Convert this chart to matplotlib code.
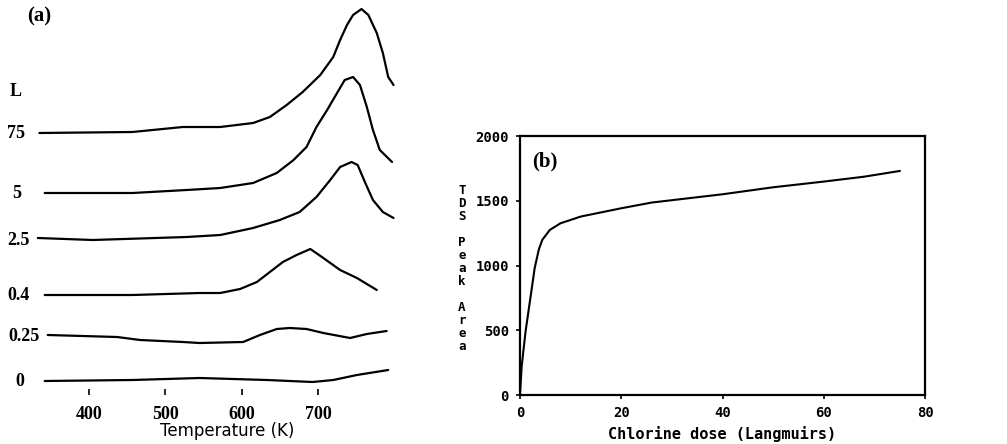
import matplotlib
matplotlib.use("Agg")
import matplotlib.pyplot as plt
from matplotlib.transforms import blended_transform_factory

# ---------------- data: panel (a) TDS spectra (temperature K, intensity a.u.) ----------------
dose_labels = ["0", "0.25", "0.4", "2.5", "5", "75"]
offsets = [14, 59, 100, 155, 202, 262]

T_0 = [342, 457, 545, 633, 693, 720, 751, 792]
I_0 = [0, 1, 3, 1, -1, 1, 6, 11]

T_025 = [346, 437, 467, 523, 545, 602, 624, 646, 663, 685, 707, 742, 764, 790]
I_025 = [1, -1, -4, -6, -7, -6, 1, 7, 8, 7, 3, -2, 2, 5]

T_04 = [342, 457, 545, 572, 598, 620, 637, 654, 672, 690, 707, 729, 751, 777]
I_04 = [0, 0, 2, 2, 6, 13, 23, 33, 40, 46, 37, 25, 17, 5]

T_25 = [333, 405, 528, 572, 615, 650, 676, 698, 716, 729, 744, 752, 762, 772, 785, 799]
I_25 = [2, 0, 3, 5, 12, 20, 28, 43, 60, 73, 78, 75, 57, 40, 28, 22]

T_5 = [342, 457, 528, 572, 615, 646, 668, 685, 698, 712, 725, 735, 746, 755, 764, 772, 781, 797]
I_5 = [0, 0, 3, 5, 10, 20, 33, 46, 66, 83, 100, 113, 116, 108, 86, 63, 43, 31]

T_75 = [335, 457, 523, 572, 615, 637, 659, 680, 703, 720, 729, 738, 746, 757, 766, 777,
        785, 792, 799]
I_75 = [0, 1, 6, 6, 10, 16, 28, 41, 58, 76, 93, 108, 118, 124, 118, 100, 80, 56, 48]

temp_ticks = [400, 500, 600, 700]

# ---------------- data: panel (b) TDS peak area vs chlorine dose ----------------
dose_L = [0, 0.33, 1.1, 2.0, 2.9, 3.7, 4.4, 5.9, 8, 12, 20, 26, 40, 50, 60, 68, 75]
peak_area = [0, 221, 491, 735, 980, 1121, 1198, 1275, 1326, 1378, 1442, 1486, 1550,
             1604, 1648, 1686, 1730]
dose_ticks = [0, 20, 40, 60, 80]
area_ticks = [0, 500, 1000, 1500, 2000]

W, H = 1007, 444
fig = plt.figure(figsize=(W / 100, H / 100), dpi=100)
fig.patch.set_facecolor("white")


def fx(px):
    return px / W


def fy(py):
    return 1 - py / H


serif = "Liberation Serif"
mono = "DejaVu Sans Mono"

# ---------------- panel (a) ----------------
ax = fig.add_axes([fx(35), fy(395), fx(395) - fx(35), fy(5) - fy(395)])
curves = [(T_0, I_0), (T_025, I_025), (T_04, I_04), (T_25, I_25), (T_5, I_5), (T_75, I_75)]
for (T, I), off in zip(curves, offsets):
    ax.plot(T, [v + off for v in I], color="black", lw=1.6,
            solid_joinstyle="round", solid_capstyle="round")
ax.set_xlim(329.3, 800.9)
ax.set_ylim(0, 390)
for s in ax.spines.values():
    s.set_visible(False)
ax.set_yticks([])
ax.set_xticks(temp_ticks)
ax.set_xticklabels([str(t) for t in temp_ticks], fontfamily=serif, fontweight="bold",
                   fontsize=13)
ax.tick_params(axis="x", direction="in", length=4, width=1.2, pad=8, color="black")
fig.text(fx(227), fy(431), "Temperature (K)", ha="center", va="center",
         fontsize=12, family="DejaVu Sans", color="black")
fig.text(fx(27), fy(16), "(a)", ha="left", va="center", fontsize=15,
         family=serif, fontweight="bold")

trans = blended_transform_factory(fig.transFigure, ax.transData)
label_x = [15, 8, 7, 7, 12, 7]
for lab, off, lx in zip(dose_labels, offsets, label_x):
    ax.text(fx(lx), off, lab, transform=trans, ha="left", va="center",
            fontsize=13, family=serif, fontweight="bold")
ax.text(fx(10), 395 - 92, "L", transform=trans, ha="left", va="center",
        fontsize=13, family=serif, fontweight="bold")

# ---------------- panel (b) ----------------
bx = fig.add_axes([fx(520), fy(395), fx(925) - fx(520), fy(136) - fy(395)])
bx.plot(dose_L, peak_area, color="black", lw=1.5)
bx.set_xlim(0, 80)
bx.set_ylim(0, 2000)
bx.set_xticks(dose_ticks)
bx.set_yticks(area_ticks)
bx.set_xticklabels([str(t) for t in dose_ticks], family=mono, fontweight="bold", fontsize=10)
bx.set_yticklabels([str(t) for t in area_ticks], family=mono, fontweight="bold", fontsize=10)
bx.tick_params(direction="out", length=3, width=1.2, pad=5)
for s in bx.spines.values():
    s.set_linewidth(1.6)
bx.set_xlabel("Chlorine dose (Langmuirs)", family=mono, fontweight="bold",
              fontsize=11, labelpad=4)
bx.text(0.03, 0.9, "(b)", transform=bx.transAxes, ha="left", va="center",
        fontsize=15, family=serif, fontweight="bold")
fig.text(fx(462), fy(268), "\n".join("TDS Peak Area"), ha="center", va="center",
         fontsize=9, family=mono, fontweight="bold", linespacing=1.0)

fig.savefig("out.png", dpi=100, facecolor="white")
